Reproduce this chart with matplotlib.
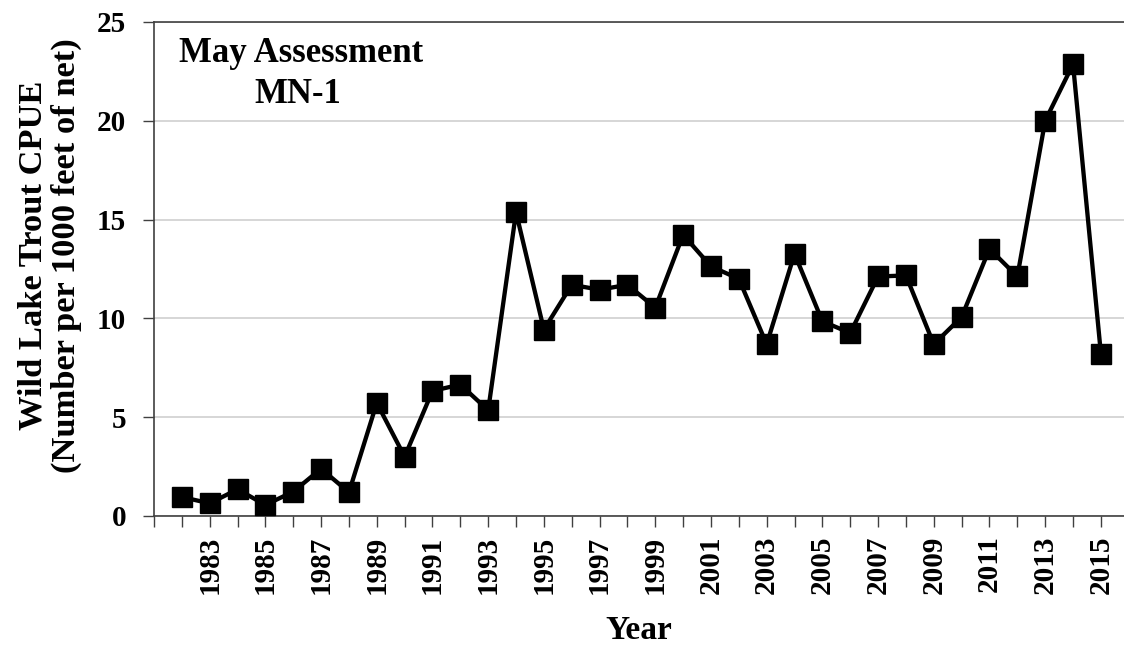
"""
Wild lake trout CPUE, May assessment MN-1
"""

import matplotlib.pyplot as plt
import numpy as np

years = np.arange(1982, 2016)
cpue = [0.96, 0.64, 1.35, 0.56, 1.23, 2.39, 1.2, 5.72, 3.0, 6.33,
        6.65, 5.35, 15.37, 9.43, 11.7, 11.45, 11.7, 10.54, 14.23, 12.63,
        12.0, 8.69, 13.27, 9.85, 9.26, 12.12, 12.17, 8.69, 10.07, 13.52,
        12.12, 20.0, 22.86, 8.22]
label_years = np.arange(1983, 2016, 2)

plt.rcParams['font.family'] = 'Liberation Serif'
plt.rcParams['font.weight'] = 'bold'

fig = plt.figure(figsize=(11.24, 6.45), dpi=100)
ax = fig.add_axes([0.137, 0.2, 0.863, 0.766])

ax.plot(years, cpue, color='black', lw=3.1, marker='s', ms=14.5,
        zorder=3, clip_on=False)

ax.set_xlim(1981, 2015.83)
ax.set_ylim(0, 25)
ax.set_yticks([0, 5, 10, 15, 20, 25])
ax.set_xticks(np.arange(1981, 2016), minor=True)
ax.set_xticks(label_years)
ax.set_xticklabels([str(y) for y in label_years], rotation=90)
ax.grid(axis='y', color='#d0d0d0', lw=1.2)
ax.set_axisbelow(True)

ax.tick_params(axis='both', which='both', direction='out', length=8,
               width=1, color='#404040')
ax.tick_params(axis='x', which='major', labelsize=21, pad=6)
ax.tick_params(axis='y', labelsize=21, pad=12)

for s in ['left', 'bottom', 'top']:
    ax.spines[s].set_color('#404040')
    ax.spines[s].set_linewidth(1.2)
ax.spines['right'].set_visible(False)

ax.set_ylabel('Wild Lake Trout CPUE\n(Number per 1000 feet of net)',
              fontsize=24.8, fontweight='bold', linespacing=1.1)
ax.yaxis.set_label_coords(-0.074, 0.528)
ax.set_xlabel('Year', fontsize=24, fontweight='bold', labelpad=15)

ax.text(0.026, 0.97, 'May Assessment', transform=ax.transAxes,
        fontsize=25, fontweight='bold', va='top', ha='left')
ax.text(0.104, 0.887, 'MN-1', transform=ax.transAxes,
        fontsize=25, fontweight='bold', va='top', ha='left')

fig.savefig('out.png', dpi=100)
